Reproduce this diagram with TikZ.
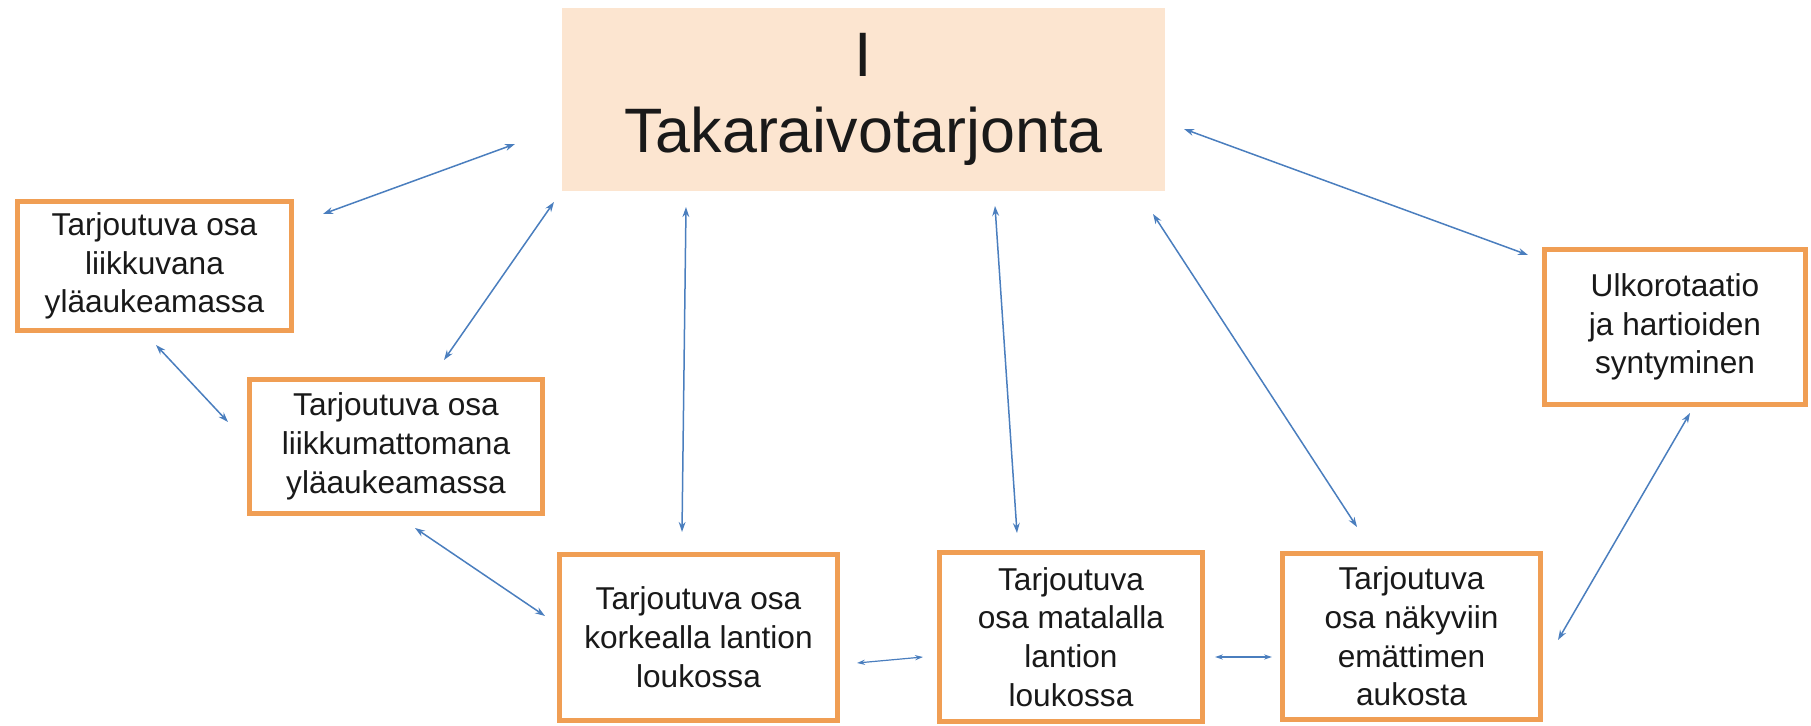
\documentclass[tikz,border=0pt]{standalone}
\usepackage{fontspec}
\setmainfont{Liberation Sans}
\usetikzlibrary{arrows.meta}
\definecolor{boxorange}{RGB}{240,158,84}
\definecolor{peach}{RGB}{252,229,208}
\definecolor{linkblue}{RGB}{74,126,190}
\definecolor{inktext}{RGB}{25,25,25}
\tikzset{
  stagebox/.style={draw=boxorange, line width=2.5pt, fill=white, inner sep=0pt,
    align=center, text=inktext, font=\fontsize{15.8}{19.4}\selectfont},
  titlebox/.style={fill=peach, inner sep=0pt, align=center, text=inktext,
    font=\fontsize{31.4}{38}\selectfont},
  link/.style={draw=linkblue, line width=0.75pt,
    {Stealth[length=5pt,width=3.4pt]}-{Stealth[length=5pt,width=3.4pt]}},
  smalllink/.style={draw=linkblue, line width=0.6pt,
    {Stealth[length=4pt,width=2.6pt]}-{Stealth[length=4pt,width=2.6pt]}}
}
\begin{document}
\begin{tikzpicture}[x=0.5pt, y=-0.5pt]
\useasboundingbox (0,0) rectangle (1811,726);

% stages
\node[titlebox, minimum width=301.5pt, minimum height=91.5pt] (main) at (863.5,99.5)
  {I\\Takaraivotarjonta};
\node[stagebox, minimum width=137pt, minimum height=64.5pt] (b1) at (154.5,266)
  {Tarjoutuva osa\\liikkuvana\\yläaukeamassa};
\node[stagebox, minimum width=146.5pt, minimum height=67pt] (b2) at (396,446.5)
  {Tarjoutuva osa\\liikkumattomana\\yläaukeamassa};
\node[stagebox, minimum width=139pt, minimum height=83pt] (b3) at (698.5,637.5)
  {Tarjoutuva osa\\korkealla lantion\\loukossa};
\node[stagebox, minimum width=131.5pt, minimum height=84.5pt] (b4) at (1071,637)
  {Tarjoutuva\\osa matalalla\\lantion\\loukossa};
\node[stagebox, minimum width=129pt, minimum height=83pt] (b5) at (1411.5,636.5)
  {Tarjoutuva\\osa näkyviin\\emättimen\\aukosta};
\node[stagebox, minimum width=130.5pt, minimum height=77.5pt] (b6) at (1675,327)
  {Ulkorotaatio\\ja hartioiden\\syntyminen};

% connector ends (they stop short of the boxes)
\coordinate (m1) at (515,144);   \coordinate (e1) at (323,214);
\coordinate (m2) at (554,202);   \coordinate (e2) at (444,360);
\coordinate (m3) at (686,207);   \coordinate (e3) at (682,532);
\coordinate (m4) at (995,206);   \coordinate (e4) at (1017,533);
\coordinate (m5) at (1153,214);  \coordinate (e5) at (1357,527);
\coordinate (m6) at (1184,129);  \coordinate (e6) at (1528,255);
\coordinate (p7) at (156,345);   \coordinate (q7) at (228,422);
\coordinate (p8) at (415,528);   \coordinate (q8) at (545,616);
\coordinate (p9) at (857,663);   \coordinate (q9) at (923,657);
\coordinate (p10) at (1215,657); \coordinate (q10) at (1272,657);
\coordinate (p11) at (1690,413); \coordinate (q11) at (1558,640);

% links
\draw[link] (m1) -- (e1);
\draw[link] (m2) -- (e2);
\draw[link] (m3) -- (e3);
\draw[link] (m4) -- (e4);
\draw[link] (m5) -- (e5);
\draw[link] (m6) -- (e6);
\draw[link] (p7) -- (q7);
\draw[link] (p8) -- (q8);
\draw[smalllink] (p9) -- (q9);
\draw[smalllink] (p10) -- (q10);
\draw[link] (p11) -- (q11);
\end{tikzpicture}
\end{document}
